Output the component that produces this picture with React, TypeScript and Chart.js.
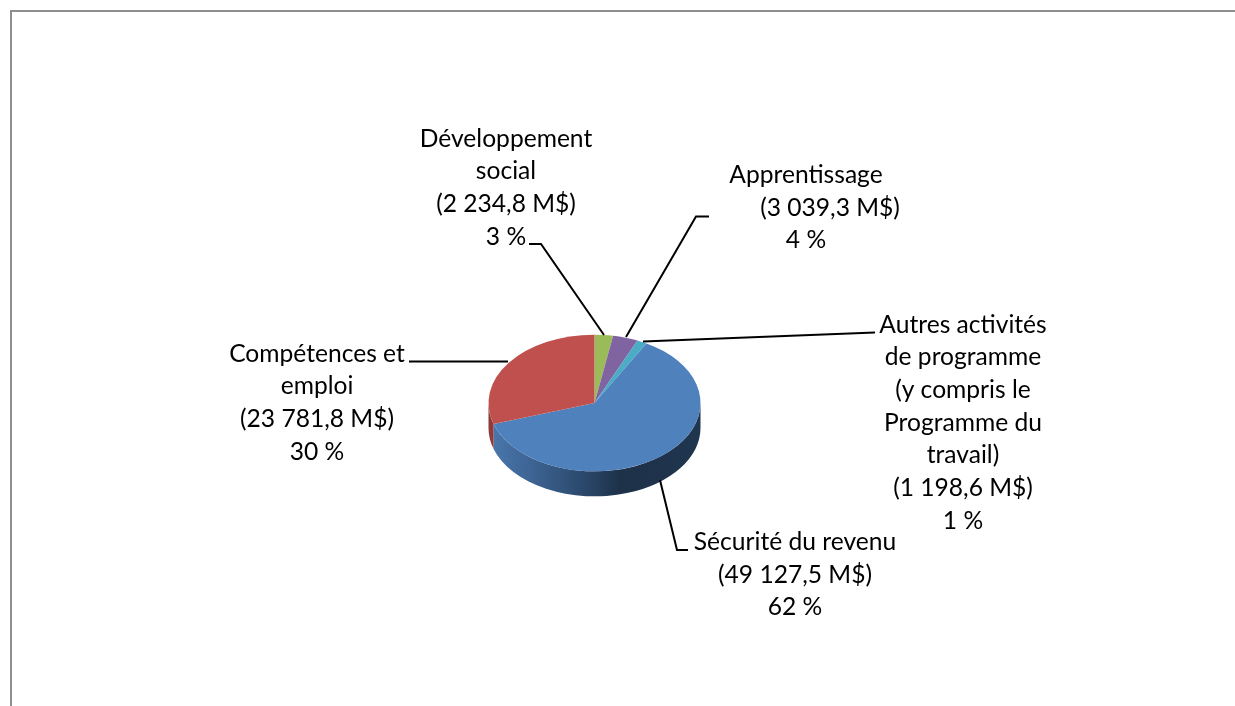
import React, { useEffect, useRef } from "react";
import { Chart, registerables } from "chart.js";

Chart.register(...registerables);

const categories = ["Développement social", "Apprentissage", "Autres activités de programme", "Sécurité du revenu", "Compétences et emploi"];
const values = [2234.8, 3039.3, 1198.6, 49127.5, 23781.8];
const sliceColors = ["#9bbb59", "#8064a2", "#4bacc6", "#4f81bd", "#c0504d"];

const labelLines = [
  ["Développement", "social", "(2 234,8 M$)", "3 %"],
  ["Apprentissage", "(3 039,3 M$)", "4 %"],
  ["Autres activités", "de programme", "(y compris le", "Programme du", "travail)", "(1 198,6 M$)", "1 %"],
  ["Sécurité du revenu", "(49 127,5 M$)", "62 %"],
  ["Compétences et", "emploi", "(23 781,8 M$)", "30 %"],
];
const labelCenters = [[506], [806, 830, 806], [963], [795], [317]];
const labelFirstBaselines = [146.5, 183, 332.5, 550, 361.5];
const lineStep = 32.7;
const leaders = [
  [[529, 244], [541, 244], [604, 335]],
  [[709, 216.5], [696, 216.5], [626, 337]],
  [[875, 332.5], [643, 341.5]],
  [[688, 550], [677, 550], [660, 480]],
  [[409, 361.5], [508, 361.5]],
];

const SQUASH = 0.645;
const DEPTH = 25;
const FONT = '24.6px Lato, "Open Sans", sans-serif';

const tiltedPie = {
  id: "tiltedPie",
  beforeDatasetsDraw(chart: any) {
    const { ctx } = chart;
    const arcs = chart.getDatasetMeta(0).data;
    const { x, y, outerRadius: r } = arcs[0];
    const ry = r * SQUASH;

    const blue = ctx.createLinearGradient(x - r, 0, x + r, 0);
    blue.addColorStop(0, "#4a78ae");
    blue.addColorStop(0.25, "#3a5f8c");
    blue.addColorStop(0.5, "#274263");
    blue.addColorStop(0.62, "#1d3148");
    blue.addColorStop(1, "#20364f");

    ctx.save();
    arcs.forEach((arc: any, i: number) => {
      const a = Math.max(arc.startAngle, 0);
      const b = Math.min(arc.endAngle, Math.PI);
      if (b <= a) return;
      ctx.beginPath();
      ctx.ellipse(x, y, r, ry, 0, a, b);
      ctx.ellipse(x, y + DEPTH, r, ry, 0, b, a, true);
      ctx.closePath();
      ctx.fillStyle = i === 3 ? blue : "#8e3b39";
      ctx.fill();
    });
    ctx.restore();

    ctx.save();
    ctx.translate(x, y);
    ctx.scale(1, SQUASH);
    ctx.translate(-x, -y);
  },
  afterDatasetsDraw(chart: any) {
    const { ctx, width, height } = chart;
    ctx.restore();

    ctx.save();
    ctx.strokeStyle = "#8e8e8e";
    ctx.lineWidth = 2;
    ctx.beginPath();
    ctx.moveTo(11, height);
    ctx.lineTo(11, 11);
    ctx.lineTo(width, 11);
    ctx.stroke();

    ctx.strokeStyle = "#000";
    ctx.lineWidth = 2;
    leaders.forEach((pts) => {
      ctx.beginPath();
      pts.forEach(([px, py], i) => (i ? ctx.lineTo(px, py) : ctx.moveTo(px, py)));
      ctx.stroke();
    });

    ctx.fillStyle = "#000";
    ctx.font = FONT;
    ctx.textAlign = "center";
    ctx.textBaseline = "alphabetic";
    labelLines.forEach((lines, i) => {
      lines.forEach((line, j) => {
        const cx = labelCenters[i][j] ?? labelCenters[i][0];
        ctx.fillText(line, cx, labelFirstBaselines[i] + j * lineStep);
      });
    });
    ctx.restore();
  },
};

export default function App() {
  const ref = useRef<HTMLCanvasElement>(null);
  useEffect(() => {
    document.body.style.margin = "0";
    const chart = new Chart(ref.current!, {
      type: "pie",
      data: {
        labels: categories,
        datasets: [{ data: values, backgroundColor: sliceColors, borderWidth: 0, hoverOffset: 0, clip: false } as any],
      },
      options: {
        responsive: false,
        animation: false,
        events: [],
        layout: { padding: { left: 488.5, right: 534.5, top: 297, bottom: 197 } },
        plugins: { legend: { display: false }, title: { display: false }, tooltip: { enabled: false } },
      },
      plugins: [tiltedPie],
    });
    return () => chart.destroy();
  }, []);
  return <canvas ref={ref} width={1235} height={706} style={{ display: "block", background: "#fff" }} />;
}
